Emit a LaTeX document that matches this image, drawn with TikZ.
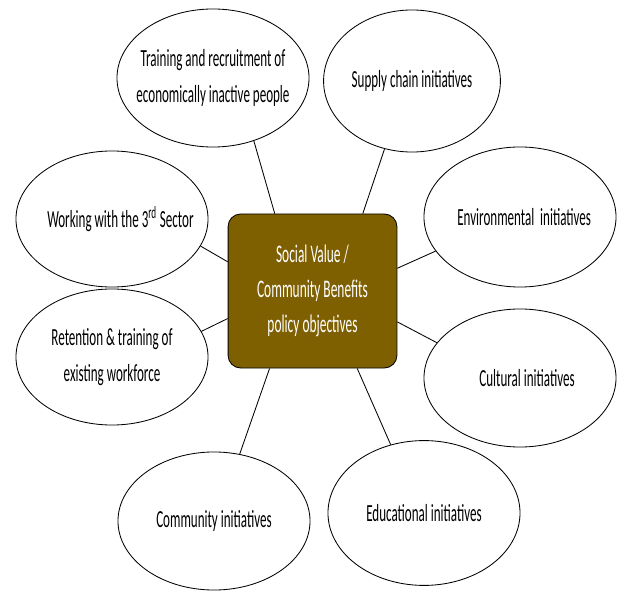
\documentclass[tikz,border=0pt]{standalone}
\usepackage{fontspec}
\setmainfont{Carlito}[FakeStretch=0.53]
\usetikzlibrary{shapes.geometric}
\definecolor{boxbrown}{RGB}{127,96,0}

\begin{document}
\begin{tikzpicture}[x=0.025cm, y=-0.025cm,
  bubble/.style={draw=black, ellipse, line width=0.6pt, inner sep=0pt},
  txt/.style={align=center, font=\fontsize{17.5}{26}\selectfont},
  link/.style={draw=black, line width=0.6pt}]

\useasboundingbox (0,0) rectangle (621,591);

% centre box
\node[draw=black, fill=boxbrown, rounded corners=9pt, line width=0.6pt,
  minimum width=4.22cm, minimum height=3.85cm, inner sep=0pt,
  text=white, txt, font=\fontsize{18}{25}\selectfont] (core) at (312.5,291)
  {Social Value /\\Community Benefits\\policy objectives};

% ellipses
\node[bubble, minimum width=4.8cm, minimum height=3.45cm,
  label={[txt]center:Training and recruitment of\\economically inactive people}] (train) at (213,78) {};
\node[bubble, minimum width=4.42cm, minimum height=3.55cm,
  label={[txt]center:Supply chain initiatives}] (supply) at (412,81) {};
\node[bubble, minimum width=4.8cm, minimum height=3.4cm,
  label={[txt, xshift=6pt]center:Working with the 3\textsuperscript{rd} Sector}] (third) at (112,219) {};
\node[bubble, minimum width=4.8cm, minimum height=3.5cm,
  label={[txt, xshift=3pt]center:Environmental\ \ initiatives}] (env) at (520,217) {};
\node[bubble, minimum width=4.8cm, minimum height=3.4cm,
  label={[txt]center:Retention \& training of\\existing workforce}] (retain) at (112,357) {};
\node[bubble, minimum width=4.8cm, minimum height=3.45cm,
  label={[txt, xshift=5pt]center:Cultural initiatives}] (culture) at (520,378) {};
\node[bubble, minimum width=4.8cm, minimum height=3.45cm,
  label={[txt]center:Community initiatives}] (community) at (214,521) {};
\node[bubble, minimum width=4.8cm, minimum height=3.62cm,
  label={[txt]center:Educational initiatives}] (educ) at (424,513) {};

% connectors
\draw[link] (core.116) -- (train.303);
\draw[link] (core.57) -- (supply.248);
\draw[link] (core.161) -- (third.343);
\draw[link] (core.15) -- (env.202);
\draw[link] (core.198) -- (retain.16);
\draw[link] (core.340) -- (culture.157);
\draw[link] (core.241) -- (community.69);
\draw[link] (core.300) -- (educ.116);
\end{tikzpicture}
\end{document}
